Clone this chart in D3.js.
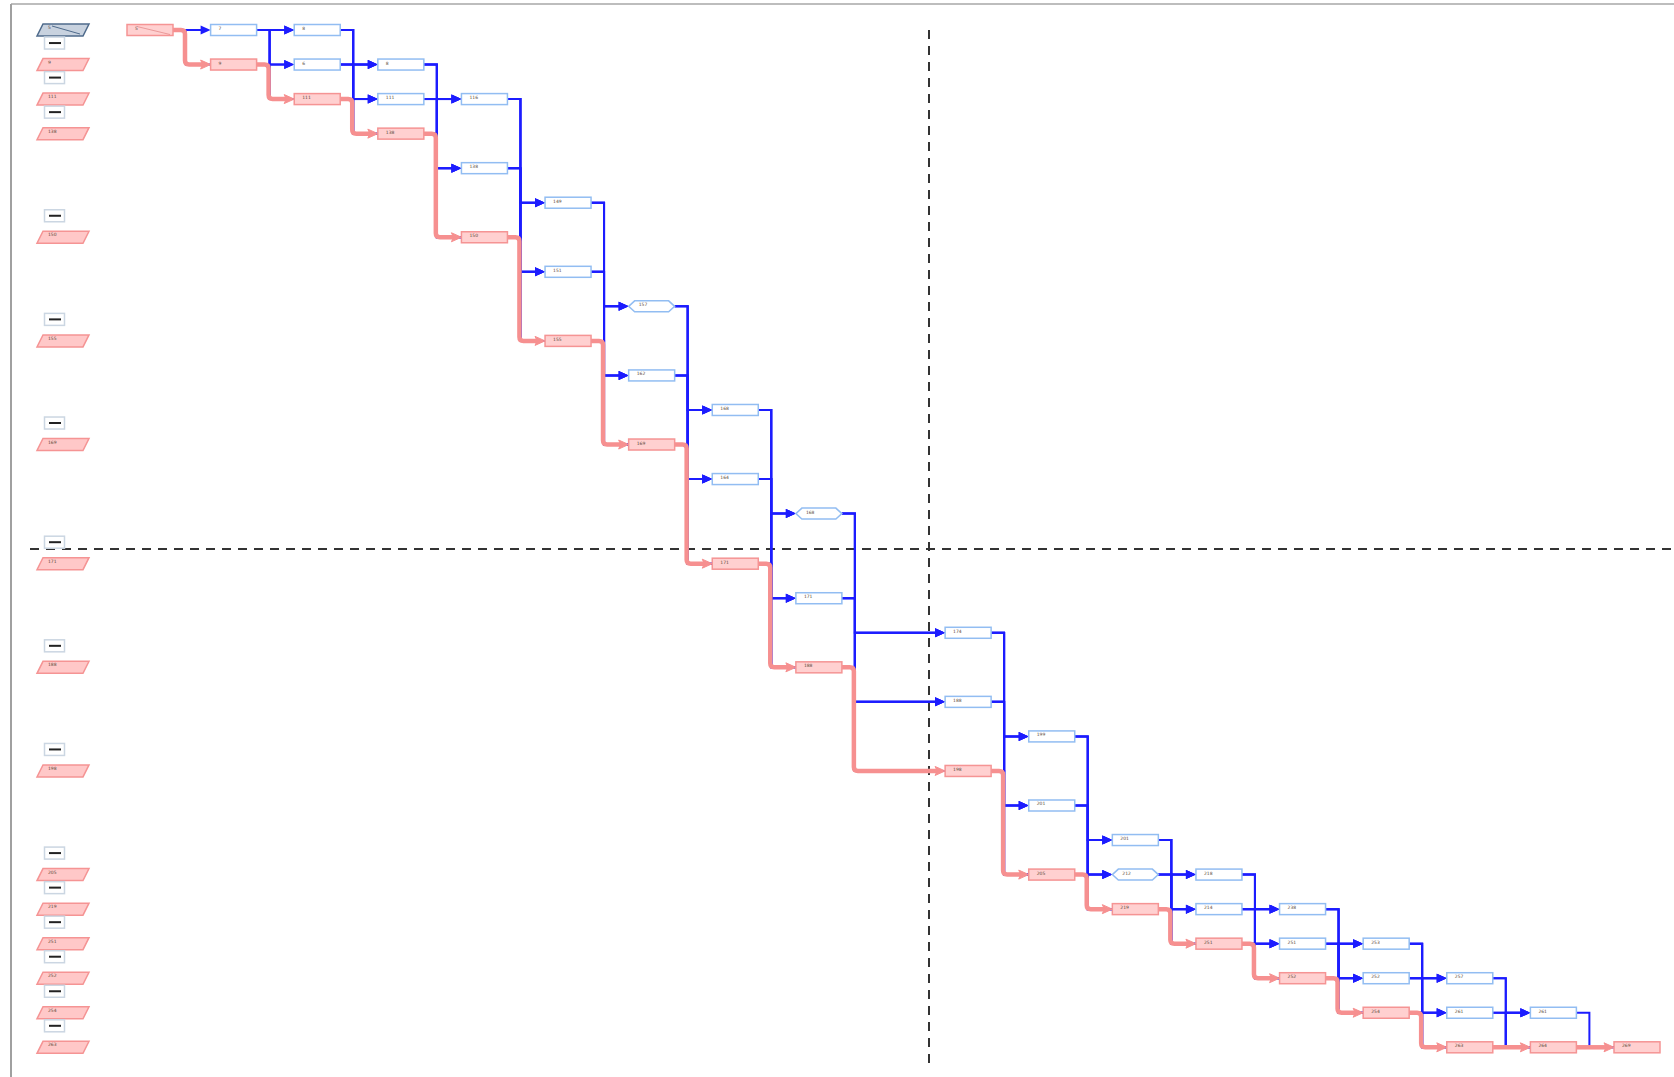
<!DOCTYPE html>
<html>
<head>
<meta charset="utf-8">
<script src="https://cdn.jsdelivr.net/npm/d3@7"></script>
<style>
  body { margin: 0; background: #fff; }
  svg { display: block; }
  .lbl { font-family: "DejaVu Sans", sans-serif; font-size: 4.5px; fill: #5a4a3a; }
</style>
</head>
<body>
<div id="graph"></div>
<script>
// Set width and height for SVG object
var svgWidth = 1674;
var svgHeight = 1077;

// Nodes: [column, row, kind, label]  kind: s = start, b = block, h = branch, r = commit
var nodes = [
  [0, 0, "s", "5"],
  [1, 0, "b", "7"], [1, 1, "r", "9"],
  [2, 0, "b", "8"], [2, 1, "b", "6"], [2, 2, "r", "111"],
  [3, 1, "b", "8"], [3, 2, "b", "111"], [3, 3, "r", "138"],
  [4, 2, "b", "116"], [4, 4, "b", "138"], [4, 6, "r", "150"],
  [5, 5, "b", "149"], [5, 7, "b", "151"], [5, 9, "r", "155"],
  [6, 8, "h", "157"], [6, 10, "b", "162"], [6, 12, "r", "169"],
  [7, 11, "b", "168"], [7, 13, "b", "164"], [7, 15, "r", "171"],
  [8, 14, "h", "168"], [8, 16, "b", "171"], [8, 18, "r", "188"],
  [9, 17, "b", "174"], [9, 19, "b", "188"], [9, 21, "r", "198"],
  [10, 20, "b", "199"], [10, 22, "b", "201"], [10, 24, "r", "205"],
  [11, 23, "b", "201"], [11, 24, "h", "212"], [11, 25, "r", "219"],
  [12, 24, "b", "218"], [12, 25, "b", "214"], [12, 26, "r", "251"],
  [13, 25, "b", "238"], [13, 26, "b", "251"], [13, 27, "r", "252"],
  [14, 26, "b", "253"], [14, 27, "b", "252"], [14, 28, "r", "254"],
  [15, 27, "b", "257"], [15, 28, "b", "261"], [15, 29, "r", "263"],
  [16, 28, "b", "261"], [16, 29, "r", "264"],
  [17, 29, "r", "269"]
];

// Left column: commit rows with their labels, and the collapsed markers above them
var legendRows = [0, 1, 2, 3, 6, 9, 12, 15, 18, 21, 24, 25, 26, 27, 28, 29];
var legendLabels = ["5", "9", "111", "138", "150", "155", "169", "171", "188", "198", "205", "219", "251", "252", "254", "263"];
var markerRows = [1, 2, 3, 6, 9, 12, 15, 18, 21, 24, 25, 26, 27, 28, 29];

// layout gaps (quadrant split)
var colGapAt = 9, colGap = 0.785;
var rowGapAt = 15, rowGap = 0.45;
var splitX = 929, splitY = 549;

var nodeW = 46, nodeH = 11;

var svg = d3.select("#graph")
  .append("svg")
  .attr("width", svgWidth)
  .attr("height", svgHeight);

var xScale = d3.scaleLinear().domain([0, 17 + colGap]).range([127, 1614]);
var yScale = d3.scaleLinear().domain([0, 29 + rowGap]).range([30, 1047.3]);

function nx(c) { return xScale(c + (c >= colGapAt ? colGap : 0)); }
function ny(r) { return yScale(r + (r >= rowGapAt ? rowGap : 0)); }

var data = nodes.map(function(n) {
  return { col: n[0], row: n[1], kind: n[2], label: n[3], x: nx(n[0]), y: ny(n[1]) };
});

// frame
svg.append("line").attr("x1", 11).attr("y1", 4).attr("x2", svgWidth).attr("y2", 4)
  .attr("stroke", "#bdbdbd").attr("stroke-width", 2);
svg.append("line").attr("x1", 11).attr("y1", 4).attr("x2", 11).attr("y2", svgHeight)
  .attr("stroke", "#a0a0a0").attr("stroke-width", 2);

// dashed split lines
svg.append("line").attr("x1", splitX).attr("y1", 30).attr("x2", splitX).attr("y2", 1065)
  .attr("stroke", "#333").attr("stroke-width", 2).attr("stroke-dasharray", "9,7");
svg.append("line").attr("x1", 30).attr("y1", splitY).attr("x2", 1671).attr("y2", splitY)
  .attr("stroke", "#333").attr("stroke-width", 2).attr("stroke-dasharray", "9,7");

var edgeLayer = svg.append("g");
var redLayer = svg.append("g");
var nodeLayer = svg.append("g");

// edges: every node of one column feeds the next column through a bus
var blue = "#1c1cff", red = "#f69090";
d3.range(0, 17).forEach(function(c) {
  var src = data.filter(function(d) { return d.col === c; });
  var tgt = data.filter(function(d) { return d.col === c + 1; });
  var bus = nx(c) + nodeW + 13;
  src.forEach(function(s) {
    tgt.forEach(function(t) {
      var sy = s.y, ty = t.y;
      edgeLayer.append("path")
        .attr("d", "M" + (s.x + nodeW) + "," + sy + " H" + bus + " V" + ty + " H" + (t.kind === "r" ? t.x : t.x - 8))
        .attr("fill", "none").attr("stroke", blue).attr("stroke-width", 2);
      if (t.kind !== "r") {
        edgeLayer.append("path")
          .attr("d", "M" + t.x + "," + ty + " l-10,-4.5 l0,9 z")
          .attr("fill", blue);
      }
    });
  });
  var rs = src.filter(function(d) { return d.kind === "r" || d.kind === "s"; })[0];
  var rt = tgt.filter(function(d) { return d.kind === "r"; })[0];
  if (rs && rt) {
    var bx = bus - 1, k = 4, p;
    if (rs.y === rt.y) {
      p = "M" + (rs.x + nodeW) + "," + rs.y + " H" + (rt.x - 6);
    } else {
      p = "M" + (rs.x + nodeW) + "," + rs.y + " H" + (bx - k) +
        " Q" + bx + "," + rs.y + " " + bx + "," + (rs.y + k) +
        " V" + (rt.y - k) + " Q" + bx + "," + rt.y + " " + (bx + k) + "," + rt.y +
        " H" + (rt.x - 6);
    }
    redLayer.append("path").attr("d", p)
      .attr("fill", "none").attr("stroke", red).attr("stroke-width", 4.5)
      .attr("stroke-linejoin", "round");
    redLayer.append("path")
      .attr("d", "M" + rt.x + "," + rt.y + " l-10,-4.5 l2,4.5 l-2,4.5 z")
      .attr("fill", red).attr("stroke", red).attr("stroke-width", 1);
  }
});

// nodes
data.forEach(function(d) {
  var g = nodeLayer.append("g").attr("transform", "translate(" + d.x + "," + (d.y - nodeH / 2) + ")");
  var isRed = d.kind === "r" || d.kind === "s";
  var fill = isRed ? "#ffd0d0" : "#fff";
  var stroke = isRed ? "#f59494" : "#92bdf2";
  if (d.kind === "h") {
    g.append("path")
      .attr("d", "M0," + nodeH / 2 + " L6,0 H" + (nodeW - 6) + " L" + nodeW + "," + nodeH / 2 +
        " L" + (nodeW - 6) + "," + nodeH + " H6 Z")
      .attr("fill", fill).attr("stroke", stroke).attr("stroke-width", 1.5);
  } else {
    g.append("rect").attr("width", nodeW).attr("height", nodeH)
      .attr("fill", fill).attr("stroke", stroke).attr("stroke-width", 1.5);
  }
  if (d.kind === "s") {
    g.append("line").attr("x1", 10).attr("y1", 2).attr("x2", nodeW - 3).attr("y2", nodeH - 1)
      .attr("stroke", "#e48c8c").attr("stroke-width", 0.8);
  }
  g.append("text").attr("class", "lbl")
    .attr("x", d.kind === "h" ? 10 : 8).attr("y", nodeH / 2)
    .text(d.label);
});

// left column: commits as parallelograms
var legend = svg.append("g");
legendRows.forEach(function(r, i) {
  var y = ny(r);
  var first = i === 0;
  legend.append("path")
    .attr("d", "M43," + (y - 6) + " H89 L83," + (y + 6) + " H37 Z")
    .attr("fill", first ? "#c8d2df" : "#ffc8c8")
    .attr("stroke", first ? "#4f6b8c" : "#f59494").attr("stroke-width", 1.5);
  if (first) {
    legend.append("line").attr("x1", 52).attr("y1", y - 4).attr("x2", 80).attr("y2", y + 4)
      .attr("stroke", "#4f6b8c").attr("stroke-width", 1);
  }
  legend.append("text").attr("class", "lbl").attr("x", 48).attr("y", y - 1).text(legendLabels[i]);
});

// collapsed markers above each commit row
markerRows.forEach(function(r) {
  var y = ny(r) - 21.5;
  legend.append("rect").attr("x", 44.5).attr("y", y - 6).attr("width", 20).attr("height", 12)
    .attr("fill", "#fff").attr("stroke", "#cbd6e2").attr("stroke-width", 1.5);
  legend.append("line").attr("x1", 49).attr("y1", y).attr("x2", 61).attr("y2", y)
    .attr("stroke", "#222").attr("stroke-width", 2);
});
</script>
</body>
</html>
